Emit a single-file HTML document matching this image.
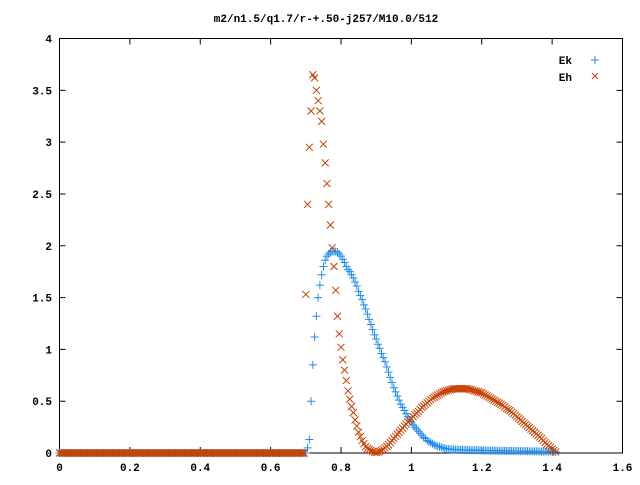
<!DOCTYPE html>
<html><head><meta charset="utf-8"><style>
body{margin:0;background:#fff}
svg text{font-family:"Liberation Mono","DejaVu Sans Mono",monospace;font-size:11px;font-weight:bold;fill:#000}
</style></head><body>
<svg id="chart" width="640" height="480" xmlns="http://www.w3.org/2000/svg">
<rect width="640" height="480" fill="#fff"/>
<text x="326" y="22" text-anchor="middle">m2/n1.5/q1.7/r-+.50-j257/M10.0/512</text>
<g id="axes"></g>
<g id="marks"></g>
<g>
<text x="572" y="64" text-anchor="end">Ek</text>
<text x="572" y="81" text-anchor="end">Eh</text>
<path d="M595,56v8M591,60h8" stroke="#1e8cf0" stroke-width="1"/>
<path d="M592,73l6,6M598,73l-6,6" stroke="#c84000" stroke-width="1"/>
</g>
</svg>
<script>
const xTicks=[0,0.2,0.4,0.6,0.8,1,1.2,1.4,1.6];
const xTickLabels=["0","0.2","0.4","0.6","0.8","1","1.2","1.4","1.6"];
const yTicks=[0,0.5,1,1.5,2,2.5,3,3.5,4];
const yTickLabels=["0","0.5","1","1.5","2","2.5","3","3.5","4"];
const xs=[0.700,0.705,0.710,0.715,0.720,0.725,0.730,0.735,0.740,0.745,0.750,0.755,0.760,0.765,0.770,0.775,0.780,0.785,0.790,0.795,0.800,
0.805,0.810,0.815,0.820,0.825,0.830,0.835,0.840,0.845,0.850,0.855,0.860,0.865,0.870,0.875,0.880,0.885,0.890,0.895,0.900,
0.905,0.910,0.915,0.920,0.925,0.930,0.935,0.940,0.945,0.950,0.955,0.960,0.965,0.970,0.975,0.980,0.985,0.990,0.995,1.000,
1.005,1.010,1.015,1.020,1.025,1.030,1.035,1.040,1.045,1.050,1.055,1.060,1.065,1.070,1.075,1.080,1.085,1.090,1.095,1.100,
1.105,1.110,1.115,1.120,1.125,1.130,1.135,1.140,1.145,1.150,1.155,1.160,1.165,1.170,1.175,1.180,1.185,1.190,1.195,1.200,
1.205,1.210,1.215,1.220,1.225,1.230,1.235,1.240,1.245,1.250,1.255,1.260,1.265,1.270,1.275,1.280,1.285,1.290,1.295,1.300,
1.305,1.310,1.315,1.320,1.325,1.330,1.335,1.340,1.345,1.350,1.355,1.360,1.365,1.370,1.375,1.380,1.385,1.390,1.395,1.400,1.405,1.410];
const ekValues=[0,0.05,0.13,0.5,0.85,1.12,1.32,1.5,1.62,1.72,1.8,1.86,1.9,1.92,1.94,1.945,1.945,1.945,1.94,1.92,1.9,
1.87,1.84,1.8,1.77,1.75,1.72,1.69,1.65,1.61,1.56,1.52,1.48,1.43,1.39,1.34,1.29,1.24,1.19,1.14,1.1,
1.05,1.01,0.96,0.92,0.88,0.83,0.78,0.73,0.68,0.63,0.59,0.55,0.51,0.47,0.44,0.41,0.38,0.35,0.32,0.3,
0.27,0.25,0.23,0.21,0.19,0.17,0.15,0.14,0.12,0.11,0.1,0.09,0.08,0.07,0.065,0.06,0.055,0.05,0.045,0.04,
0.038,0.036,0.035,0.034,0.033,0.032,0.031,0.03,0.03,0.029,0.029,0.028,0.028,0.027,0.027,0.026,0.026,0.025,0.025,0.025,
0.024,0.024,0.024,0.023,0.023,0.023,0.022,0.022,0.022,0.021,0.021,0.021,0.02,0.02,0.02,0.02,0.019,0.019,0.019,0.019,
0.018,0.018,0.018,0.018,0.017,0.017,0.017,0.017,0.016,0.016,0.016,0.016,0.015,0.015,0.015,0.015,0.014,0.014,0.014,0.013,0.012,0.01];
const ehValues=[1.53,2.4,2.95,3.3,3.65,3.62,3.5,3.4,3.3,3.2,2.98,2.8,2.6,2.4,2.2,1.98,1.8,1.57,1.32,1.15,1.02,
0.9,0.8,0.7,0.6,0.52,0.45,0.39,0.32,0.26,0.2,0.16,0.12,0.09,0.06,0.045,0.035,0.025,0.015,0.008,0.005,
0.008,0.015,0.025,0.035,0.05,0.065,0.08,0.1,0.12,0.14,0.16,0.18,0.2,0.22,0.24,0.26,0.28,0.3,0.315,0.33,
0.35,0.37,0.385,0.4,0.42,0.44,0.455,0.47,0.485,0.5,0.515,0.53,0.54,0.55,0.56,0.57,0.58,0.59,0.595,0.6,
0.605,0.61,0.615,0.62,0.62,0.62,0.62,0.62,0.62,0.62,0.62,0.62,0.615,0.61,0.605,0.6,0.595,0.59,0.585,0.58,
0.57,0.56,0.55,0.54,0.53,0.52,0.51,0.5,0.49,0.48,0.47,0.46,0.445,0.43,0.42,0.41,0.395,0.38,0.365,0.35,
0.335,0.32,0.305,0.29,0.275,0.26,0.245,0.23,0.215,0.2,0.185,0.17,0.155,0.14,0.12,0.1,0.085,0.07,0.055,0.04,0.025,0.01];
const zeroX=[];for(let i=0;i<140;i++)zeroX.push(i*0.005);

const X0=59.5,X1=622.5,Y0=453,Y1=38.5;
const sx=v=>X0+(v/1.6)*(X1-X0);
const sy=v=>Y0-(v/4)*(Y0-Y1);
const NS="http://www.w3.org/2000/svg";
const axes=document.getElementById('axes'),marks=document.getElementById('marks');
function mk(tag,attrs,parent){const e=document.createElementNS(NS,tag);for(const k in attrs)e.setAttribute(k,attrs[k]);parent.appendChild(e);return e;}
const frame=mk('rect',{x:X0,y:Y1,width:X1-X0,height:Y0-Y1,fill:'none',stroke:'#000','stroke-width':1},axes);


xTicks.forEach((t,i)=>{const x=sx(t);
const tk=mk('path',{d:`M${x},${Y0}v-6M${x},${Y1}v6`,stroke:'#000'},axes);


const tx=mk('text',{x:x,y:471,'text-anchor':'middle'},axes);tx.textContent=xTickLabels[i];

});
yTicks.forEach((t,i)=>{const y=sy(t);
const tk=mk('path',{d:`M${X0},${y}h6M${X1},${y}h-6`,stroke:'#000'},axes);


const tx=mk('text',{x:52,y:y+4,'text-anchor':'end'},axes);tx.textContent=yTickLabels[i];

});
function plus(x,y){const p=mk('path',{d:`M${sx(x)-4},${sy(y)}h8M${sx(x)},${sy(y)-4}v8`,stroke:'#1e8cf0','stroke-width':1},marks);

}
function cross(x,y){const X=sx(x),Y=sy(y);const p=mk('path',{d:`M${X-3.5},${Y-3.5}l7,7M${X+3.5},${Y-3.5}l-7,7`,stroke:'#c84000','stroke-width':1},marks);

}
zeroX.forEach(x=>plus(x,0));
xs.forEach((x,i)=>plus(x,ekValues[i]));
zeroX.forEach(x=>cross(x,0));
xs.forEach((x,i)=>cross(x,ehValues[i]));
</script>
</body></html>
